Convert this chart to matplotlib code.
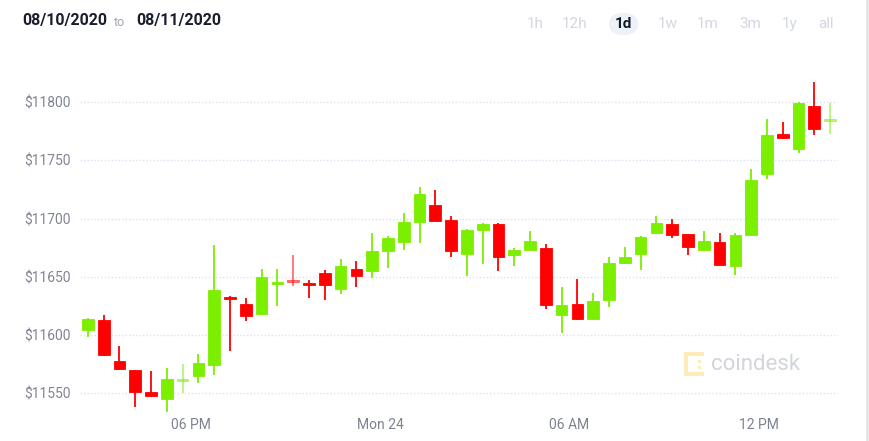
import numpy as np
import matplotlib
matplotlib.use("Agg")
import matplotlib.pyplot as plt
from matplotlib.patches import FancyBboxPatch, Rectangle

# 30 minute candles, 08/10/2020 -> 08/11/2020
opens = [11604, 11613, 11578, 11570, 11551, 11545, 11561, 11565, 11574, 11633,
         11627, 11618, 11644, 11646.3, 11645, 11653, 11640, 11657, 11655, 11672,
         11680, 11697, 11712, 11699, 11670, 11690, 11695, 11669, 11673, 11675,
         11617, 11627, 11614, 11630, 11662, 11670, 11688, 11695, 11687, 11673,
         11680, 11659, 11686, 11738, 11773, 11760, 11797, 11784]
highs = [11615, 11617, 11591, 11570, 11569, 11572, 11575, 11584, 11677, 11634,
         11632, 11657, 11657, 11669, 11647, 11656, 11665, 11664, 11688, 11685,
         11705, 11727, 11725, 11702, 11691, 11696, 11696, 11675, 11689, 11678,
         11641, 11648, 11636, 11667, 11676, 11685, 11702, 11700, 11687, 11689,
         11688, 11688, 11743, 11786, 11783, 11800, 11817, 11799]
lows = [11598, 11582, 11570, 11538, 11547, 11534, 11550, 11559, 11566, 11586,
        11612, 11617, 11625, 11642, 11632, 11630, 11635, 11641, 11649, 11658,
        11673, 11679, 11697, 11667, 11651, 11661, 11655, 11659, 11673, 11622,
        11602, 11613, 11613, 11624, 11661, 11656, 11688, 11683, 11669, 11672,
        11660, 11652, 11686, 11734, 11768, 11756, 11772, 11773]
closes = [11614, 11583, 11571, 11551, 11548, 11562, 11561, 11576, 11639, 11631,
          11616, 11650, 11645, 11646, 11643, 11643, 11659, 11651, 11672, 11683,
          11697, 11721, 11698, 11672, 11690, 11695, 11667, 11673, 11681, 11626,
          11626, 11614, 11629, 11662, 11667, 11684, 11696, 11686, 11676, 11681,
          11660, 11686, 11733, 11772, 11769, 11799, 11777, 11784]

tick_pos = [6.5, 18.5, 30.5, 42.5]
tick_labels = ["06 PM", "Mon 24", "06 AM", "12 PM"]
y_ticks = [11550, 11600, 11650, 11700, 11750, 11800]
ranges = ["1h", "12h", "1d", "1w", "1m", "3m", "1y", "all"]

GREEN = "#7cee00"
RED = "#ff0000"
FONT = ["Roboto", "DejaVu Sans"]

fig = plt.figure(figsize=(8.69, 4.41), dpi=100)
W, H = 869, 441
ax = fig.add_axes([80 / W, 1 - 416.6 / H, (838 - 80) / W, (416.6 - 44) / H])
ax.set_xlim(-0.5, 47.5)
ax.set_ylim(11530, 11850)

for y in y_ticks:
    ax.axhline(y, color="#dde1f0", lw=1, ls=(0, (1, 1.5)), zorder=0)

x = np.arange(len(opens))
for i in x:
    o, h, l, c = opens[i], highs[i], lows[i], closes[i]
    col = GREEN if c >= o else RED
    alpha = 1.0
    if abs(c - o) < 0.5:
        alpha = 0.55
    ax.vlines(i, l, h, color=col, lw=1.3, alpha=alpha, zorder=2)
    bottom = min(o, c)
    height = max(abs(c - o), 1.3)
    ax.bar(i, height, bottom=bottom, width=0.74, color=col, alpha=alpha,
           edgecolor=col, linewidth=0.6, zorder=3)

ax.set_xticks(tick_pos)
ax.set_xticklabels(tick_labels, family=FONT, fontsize=10, color="#7d828f")
ax.set_yticks(y_ticks)
ax.set_yticklabels(["$%d" % v for v in y_ticks], family=FONT, fontsize=10,
                   color="#80859290"[:7])
ax.tick_params(length=0)
ax.tick_params(axis="x", pad=1)
ax.tick_params(axis="y", pad=7)
for s in ax.spines.values():
    s.set_visible(False)

# header
fig.text(22 / W, 1 - 21 / H, "08/10/2020", family=FONT, fontsize=11.5,
         fontweight="bold", color="#1a1d2b", va="center", ha="left")
fig.text(114 / W, 1 - 22 / H, "to", family=FONT, fontsize=9,
         color="#a3a7b3", va="center", ha="left")
fig.text(136 / W, 1 - 21 / H, "08/11/2020", family=FONT, fontsize=11.5,
         fontweight="bold", color="#1a1d2b", va="center", ha="left")

range_x = [535, 575, 623, 668, 708, 750, 790, 826]
pill = FancyBboxPatch((609 / W, 1 - 36 / H), 29 / W, 24 / H,
                      boxstyle="round,pad=0,rounding_size=0.025",
                      transform=fig.transFigure, facecolor="#eef1f7",
                      edgecolor="none")
fig.patches.append(pill)
for lab, px in zip(ranges, range_x):
    active = lab == "1d"
    fig.text(px / W, 1 - 24 / H, lab, family=FONT, fontsize=11,
             fontweight="bold" if active else "normal",
             color="#151826" if active else "#d3d7e2",
             ha="center", va="center")

# watermark
logo_col = "#fdebb8"
for (lx, ly, lw_, lh) in [(684, 352, 20, 4), (684, 352, 4, 24), (684, 372, 20, 4),
                          (698, 360, 3, 3), (698, 366, 3, 3)]:
    fig.patches.append(Rectangle((lx / W, 1 - (ly + lh) / H), lw_ / W, lh / H,
                                 transform=fig.transFigure, facecolor=logo_col,
                                 edgecolor="none"))
fig.text(711 / W, 1 - 364 / H, "coindesk", family=FONT, fontsize=16,
         color="#d2d5dc", ha="left", va="center")

# scrollbar edge
fig.patches.append(Rectangle((866 / W, 0), 3 / W, 1, transform=fig.transFigure,
                             facecolor="#e6e6e6", edgecolor="none"))

fig.savefig("out.png", dpi=100)
